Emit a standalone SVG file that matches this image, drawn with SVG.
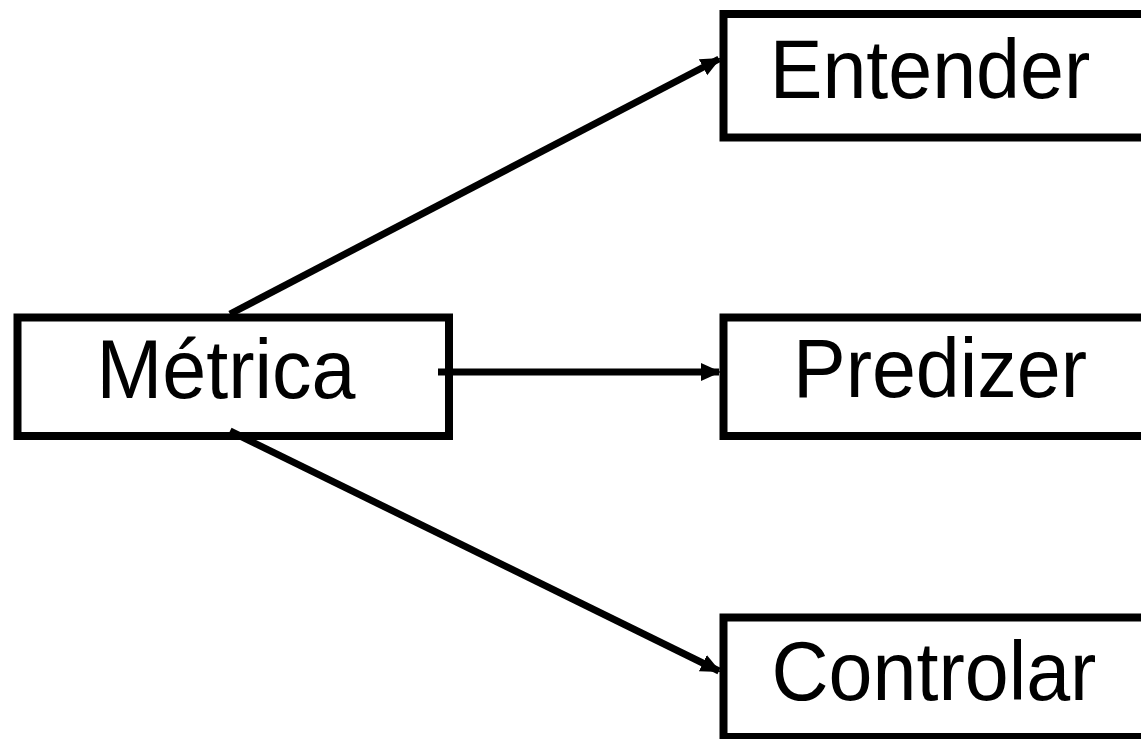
<svg xmlns="http://www.w3.org/2000/svg" width="1141" height="739" viewBox="0 0 1141 739">
<style>
.box{fill:#fff;stroke:#000;stroke-width:8}
.lbl{font-family:"Liberation Sans",Arial,sans-serif;font-size:79px;fill:#000;text-anchor:middle}
.edge{stroke:#000;stroke-width:7;fill:none}
</style>
<defs>
<marker id="ah" markerUnits="userSpaceOnUse" markerWidth="20" markerHeight="20" refX="18" refY="10" orient="auto" viewBox="0 0 20 20">
<path d="M0,1 L20,10 L0,19 Z" fill="#000"/>
</marker>
</defs>
<rect width="1141" height="739" fill="#fff"/>
<g id="metrica">
<rect class="box" x="17.5" y="317.5" width="431.5" height="118.5"/>
<text class="lbl" transform="translate(226,398) scale(1,1.06)">Métrica</text>
</g>
<g id="entender">
<rect class="box" x="723.5" y="14" width="440" height="123.5"/>
<text class="lbl" transform="translate(930,98) scale(1,1.06)">Entender</text>
</g>
<g id="predizer">
<rect class="box" x="723.5" y="317.5" width="440" height="118.5"/>
<text class="lbl" transform="translate(940,397) scale(1,1.06)">Predizer</text>
</g>
<g id="controlar">
<rect class="box" x="723.5" y="617.5" width="440" height="119.5"/>
<text class="lbl" transform="translate(934,700) scale(1,1.06)">Controlar</text>
</g>
<g id="connectors">
<line class="edge" x1="230" y1="314" x2="719" y2="59" marker-end="url(#ah)"/>
<line class="edge" x1="438" y1="372" x2="719" y2="372" marker-end="url(#ah)"/>
<line class="edge" x1="230" y1="431" x2="719" y2="671" marker-end="url(#ah)"/>
</g>
</svg>
